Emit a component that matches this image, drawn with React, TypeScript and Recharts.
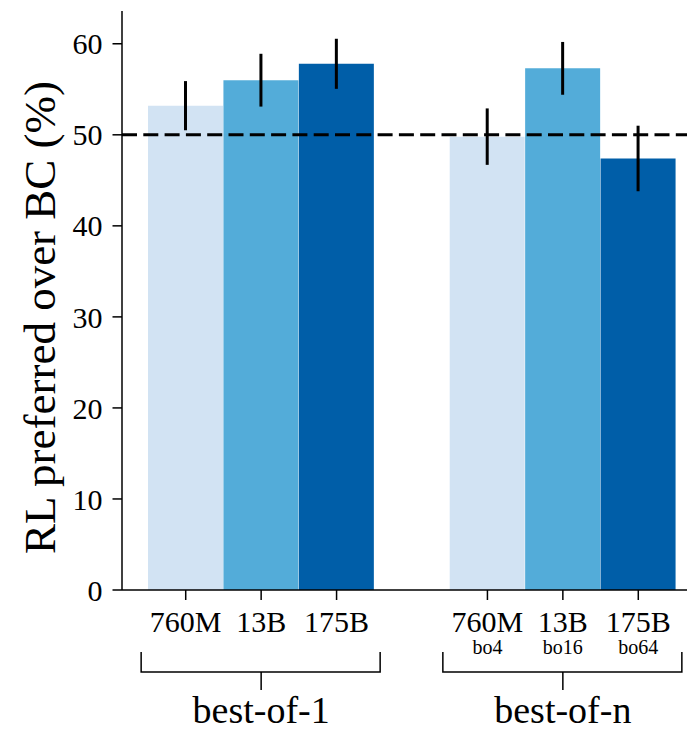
import { BarChart, Bar, XAxis, YAxis, ErrorBar, Cell, ReferenceLine } from "recharts";

const models = ["760M", "13B", "175B", "", "760M", "13B", "175B"];
const subLabels = ["", "", "", "", "bo4", "bo16", "bo64"];
const preferred = [53.2, 56.0, 57.8, null, 49.8, 57.3, 47.4];
const errors = [2.7, 2.9, 2.75, null, 3.1, 2.9, 3.6];
const groupLabels = ["best-of-1", "best-of-n"];
const groupCenters = [1, 5];
const barColors = ["#d2e3f3", "#53acd9", "#005ea8", "#ffffff", "#d2e3f3", "#53acd9", "#005ea8"];
const yTicks = [0, 10, 20, 30, 40, 50, 60];

const data = models.map((m, i) => ({
  id: `c${i}`,
  value: preferred[i],
  err: errors[i],
}));

const FONT = "'Liberation Serif', 'Times New Roman', serif";

function ModelTick(props: any) {
  const { x, y, payload } = props;
  const i = payload.index;
  if (!models[i]) return <g />;
  const g = groupCenters.indexOf(i);
  return (
    <g>
      <line x1={x} x2={x} y1={y} y2={y + 10} stroke="#000" strokeWidth={1.5} />
      <text x={x} y={y + 42} textAnchor="middle" fontSize={30} fontFamily={FONT} fill="#000">
        {models[i]}
      </text>
      {subLabels[i] && (
        <text x={x} y={y + 64} textAnchor="middle" fontSize={20} fontFamily={FONT} fill="#000">
          {subLabels[i]}
        </text>
      )}
      {g >= 0 && (
        <g>
          <path
            d={`M${x - 120},${y + 62} V${y + 82} H${x + 119} V${y + 62} M${x},${y + 82} V${y + 100}`}
            stroke="#000"
            strokeWidth={1.5}
            fill="none"
          />
          <text x={x} y={y + 133} textAnchor="middle" fontSize={38} fontFamily={FONT} fill="#000">
            {groupLabels[g]}
          </text>
        </g>
      )}
    </g>
  );
}

function YLabel(props: any) {
  const { viewBox } = props;
  const cy = viewBox.y + viewBox.height / 2 + 17;
  return (
    <text
      transform={`translate(55, ${cy}) rotate(-90)`}
      textAnchor="middle"
      fontSize={45}
      fontFamily={FONT}
      fill="#000"
    >
      RL preferred over BC (%)
    </text>
  );
}

export default function App() {
  return (
    <div style={{ position: "absolute", left: 0, top: 0 }}>
      <BarChart
        width={687}
        height={731}
        data={data}
        margin={{ top: 11, right: 0, bottom: 0, left: 0 }}
        barCategoryGap={0}
        barGap={0}
      >
        <XAxis
          dataKey="id"
          height={141}
          padding={{ left: 26, right: 11 }}
          tick={<ModelTick />}
          tickLine={false}
          tickSize={0}
          tickMargin={0}
          interval={0}
          axisLine={{ stroke: "#000", strokeWidth: 1.5 }}
        />
        <YAxis
          width={122}
          domain={[0, 63.6]}
          ticks={yTicks}
          allowDataOverflow
          tickSize={9.5}
          tickMargin={10}
          axisLine={{ stroke: "#000", strokeWidth: 1.5 }}
          tickLine={{ stroke: "#000", strokeWidth: 1.5 }}
          tick={{ fontSize: 30, fontFamily: FONT, fill: "#000" }}
          label={<YLabel />}
        />
        <Bar dataKey="value" isAnimationActive={false}>
          {data.map((d, i) => (
            <Cell key={d.id} fill={barColors[i]} />
          ))}
          <ErrorBar dataKey="err" width={0} strokeWidth={3} stroke="#000" direction="y" isAnimationActive={false} />
        </Bar>
        <ReferenceLine y={50} stroke="#000" strokeWidth={3} strokeDasharray="15 6.3" />
      </BarChart>
    </div>
  );
}
